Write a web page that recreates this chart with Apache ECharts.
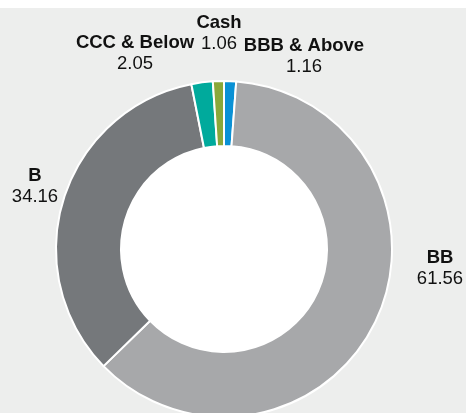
<!DOCTYPE html>
<html>
<head>
<meta charset="utf-8">
<script src="https://cdn.jsdelivr.net/npm/echarts@6/dist/echarts.min.js"></script>
<style>
  html, body { margin: 0; padding: 0; background: #ffffff; }
  #chart { width: 466px; height: 413px; background: linear-gradient(#ffffff 0, #ffffff 8px, #edeeed 8px, #edeeed 100%); }
</style>
</head>
<body>
<div id="chart"></div>
<script>
// Data
const categories = ['BBB & Above', 'BB', 'B', 'CCC & Below', 'Cash'];
const values = [1.16, 61.56, 34.16, 2.05, 1.06];

// Styles
const colors = ['#0a91d5', '#a7a8aa', '#75787b', '#00aa9c', '#8aa83a'];
const labelPos = {
  'BBB & Above': [304, 56],
  'BB': [440, 268],
  'B': [35, 186],
  'CCC & Below': [135, 53],
  'Cash': [219, 33]
};

const chart = echarts.init(document.getElementById('chart'), null, { renderer: 'canvas' });

const data = categories.map((c, i) => ({
  name: c,
  value: values[i],
  itemStyle: { color: colors[i] }
}));

chart.setOption({
  backgroundColor: 'transparent',
  animation: false,
  series: [
    {
      type: 'pie',
      silent: true,
      center: [224, 249],
      radius: [0, 103],
      label: { show: false },
      labelLine: { show: false },
      itemStyle: { color: '#ffffff' },
      data: [{ name: 'hole', value: 1 }]
    },
    {
      type: 'pie',
      center: [224, 249],
      radius: [103, 168],
      startAngle: 90,
      clockwise: true,
      avoidLabelOverlap: false,
      itemStyle: { borderColor: '#ffffff', borderWidth: 2 },
      label: {
        show: true,
        position: 'outside',
        formatter: '{n|{b}}\n{v|{c}}',
        align: 'center',
        rich: {
          n: { fontFamily: 'Liberation Sans, Arial, sans-serif', fontWeight: 'bold', fontSize: 18.5, color: '#111111', lineHeight: 21, align: 'center' },
          v: { fontFamily: 'Liberation Sans, Arial, sans-serif', fontSize: 18.5, color: '#111111', lineHeight: 21, align: 'center' }
        }
      },
      labelLine: { show: false },
      labelLayout: function (params) {
        const name = categories[params.dataIndex];
        const p = labelPos[name];
        return { x: p[0], y: p[1], align: 'center', verticalAlign: 'middle' };
      },
      data: data
    }
  ]
});
</script>
</body>
</html>
